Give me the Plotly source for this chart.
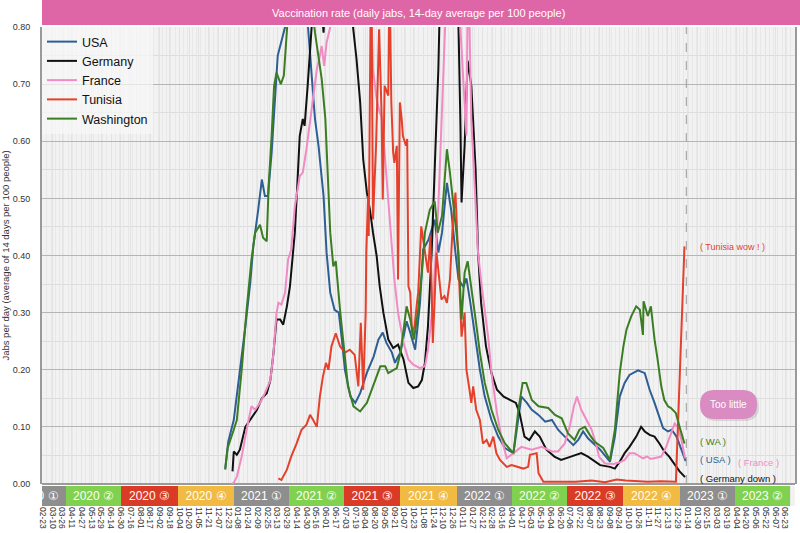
import plotly.graph_objects as go
import pandas as pd

# ---------------- data ----------------
usa_dates = ["2020-12-18","2020-12-23","2021-01-01","2021-01-09","2021-01-20","2021-01-28","2021-02-02","2021-02-10",
    "2021-02-16","2021-02-21","2021-02-26","2021-03-04","2021-03-10","2021-03-14","2021-03-21","2021-03-26","2021-04-03",
    "2021-04-12","2021-04-22","2021-05-03","2021-05-06","2021-05-14","2021-05-20","2021-05-24","2021-05-28","2021-06-02",
    "2021-06-08","2021-06-15","2021-06-22","2021-06-27","2021-07-02","2021-07-11","2021-07-19","2021-07-27","2021-08-07",
    "2021-08-18","2021-08-26","2021-09-02","2021-09-08","2021-09-17","2021-09-22","2021-09-26","2021-10-01","2021-10-06",
    "2021-10-11","2021-10-17","2021-10-25","2021-11-02","2021-11-07","2021-11-16","2021-11-26","2021-12-02","2021-12-08",
    "2021-12-16","2021-12-23","2021-12-30","2022-01-04","2022-01-12","2022-01-17","2022-01-23","2022-02-01","2022-02-08",
    "2022-02-16","2022-02-27","2022-03-10","2022-03-21","2022-04-04","2022-04-09","2022-04-17","2022-04-26","2022-05-04",
    "2022-05-15","2022-05-26","2022-06-06","2022-06-16","2022-06-27","2022-07-11","2022-07-19","2022-07-27","2022-08-04",
    "2022-08-15","2022-08-24","2022-09-09","2022-09-17","2022-09-25","2022-10-03","2022-10-11","2022-10-25","2022-11-05",
    "2022-11-13","2022-11-21","2022-11-29","2022-12-05","2022-12-13","2022-12-19","2022-12-27","2023-01-04","2023-01-11"]
usa_vals = [0.027,0.074,0.112,0.18,0.276,0.352,0.416,0.48,
    0.533,0.504,0.504,0.58,0.686,0.75,0.779,0.80,0.93,
    1.02,0.95,0.80,0.755,0.639,0.59,0.551,0.504,0.405,
    0.335,0.305,0.30,0.253,0.20,0.153,0.142,0.159,0.195,
    0.223,0.253,0.265,0.247,0.23,0.212,0.221,0.23,0.258,
    0.285,0.265,0.235,0.317,0.41,0.428,0.463,0.405,0.44,
    0.527,0.48,0.405,0.358,0.345,0.36,0.32,0.253,0.20,
    0.153,0.112,0.083,0.063,0.054,0.095,0.153,0.142,0.13,
    0.121,0.109,0.112,0.095,0.083,0.068,0.077,0.092,0.08,
    0.068,0.06,0.039,0.083,0.153,0.177,0.191,0.199,0.194,
    0.165,0.142,0.118,0.098,0.092,0.095,0.083,0.06,0.04]

germany_dates = ["2020-12-30","2021-01-01","2021-01-06","2021-01-11","2021-01-20","2021-01-28","2021-02-08","2021-02-16",
    "2021-02-24","2021-03-02","2021-03-07","2021-03-12","2021-03-18","2021-03-23","2021-03-29","2021-04-03","2021-04-08",
    "2021-04-11","2021-04-15","2021-04-19","2021-04-24","2021-04-27","2021-05-02","2021-05-06","2021-05-08","2021-05-18",
    "2021-05-28","2021-06-10","2021-06-25","2021-07-16","2021-07-21","2021-07-27","2021-08-01","2021-08-07","2021-08-12",
    "2021-08-17","2021-08-23","2021-08-28","2021-09-03","2021-09-11","2021-09-19","2021-09-27","2021-10-06","2021-10-14",
    "2021-10-22","2021-10-30","2021-11-05","2021-11-10","2021-11-15","2021-11-21","2021-11-26","2021-11-29","2021-12-02",
    "2021-12-04","2021-12-14","2021-12-24","2022-01-04","2022-01-07","2022-01-09","2022-01-14","2022-01-19","2022-01-25",
    "2022-02-01","2022-02-05","2022-02-10","2022-02-18","2022-02-27","2022-03-08","2022-03-19","2022-03-30","2022-04-08",
    "2022-04-14","2022-04-22","2022-04-30","2022-05-09","2022-05-17","2022-05-28","2022-06-10","2022-06-21","2022-07-07",
    "2022-07-24","2022-08-04","2022-08-15","2022-08-24","2022-09-09","2022-09-17","2022-09-25","2022-10-03","2022-10-11",
    "2022-10-22","2022-10-30","2022-11-05","2022-11-13","2022-11-21","2022-11-29","2022-12-07","2022-12-15","2022-12-23",
    "2023-01-01","2023-01-10"]
germany_vals = [0.022,0.057,0.051,0.06,0.10,0.112,0.13,0.15,
    0.159,0.182,0.229,0.288,0.288,0.279,0.311,0.346,0.405,
    0.44,0.522,0.609,0.639,0.627,0.697,0.755,0.80,0.95,
    0.79,1.05,1.0,0.80,0.744,0.668,0.568,0.51,0.48,
    0.44,0.399,0.346,0.30,0.253,0.238,0.244,0.218,0.177,
    0.168,0.171,0.182,0.212,0.276,0.405,0.533,0.639,0.726,
    0.80,1.3,1.0,0.80,0.639,0.493,0.592,0.741,0.697,
    0.551,0.405,0.317,0.241,0.194,0.165,0.153,0.147,0.142,
    0.124,0.083,0.077,0.092,0.083,0.06,0.048,0.042,0.048,
    0.054,0.048,0.039,0.033,0.03,0.027,0.039,0.054,0.065,
    0.083,0.10,0.092,0.086,0.083,0.071,0.057,0.048,0.036,
    0.022,0.012]

france_dates = ["2020-12-28","2021-01-01","2021-01-06","2021-01-14","2021-01-22","2021-01-30","2021-02-05","2021-02-13",
    "2021-02-21","2021-03-02","2021-03-07","2021-03-12","2021-03-15","2021-03-20","2021-03-26","2021-03-31","2021-04-05",
    "2021-04-11","2021-04-19","2021-04-24","2021-04-30","2021-05-06","2021-05-11","2021-05-17","2021-05-22","2021-05-25",
    "2021-05-29","2021-06-02","2021-06-08","2021-06-20","2021-07-05","2021-07-20","2021-08-05","2021-08-15","2021-08-17",
    "2021-08-23","2021-08-28","2021-08-31","2021-09-05","2021-09-10","2021-09-16","2021-09-21","2021-09-27","2021-10-06",
    "2021-10-14","2021-10-22","2021-11-02","2021-11-10","2021-11-15","2021-11-21","2021-11-26","2021-12-02","2021-12-07",
    "2021-12-13","2021-12-20","2021-12-30","2022-01-07","2022-01-13","2022-01-17","2022-01-19","2022-01-22","2022-01-25",
    "2022-02-01","2022-02-05","2022-02-11","2022-02-16","2022-02-22","2022-02-27","2022-03-08","2022-03-16","2022-03-24",
    "2022-04-04","2022-04-17","2022-05-04","2022-05-20","2022-06-06","2022-06-16","2022-06-27","2022-07-05","2022-07-12",
    "2022-07-17","2022-07-24","2022-08-02","2022-08-10","2022-08-17","2022-08-22","2022-09-01","2022-09-15","2022-09-25",
    "2022-10-03","2022-10-11","2022-10-19","2022-11-02","2022-11-09","2022-11-15","2022-11-24","2022-12-02","2022-12-10",
    "2022-12-18","2022-12-24","2022-12-29","2023-01-04","2023-01-10"]
france_vals = [0.0,0.002,0.013,0.048,0.095,0.136,0.13,0.142,
    0.159,0.182,0.229,0.299,0.317,0.314,0.335,0.393,0.41,
    0.486,0.539,0.545,0.586,0.633,0.674,0.726,0.75,0.767,
    0.732,0.773,0.80,0.95,0.90,1.15,0.95,0.80,0.726,
    0.674,0.65,0.644,0.58,0.51,0.434,0.358,0.30,0.247,
    0.218,0.209,0.203,0.206,0.235,0.294,0.37,0.486,0.627,
    0.80,1.0,0.95,0.80,0.70,0.61,0.85,0.80,0.639,
    0.492,0.405,0.346,0.305,0.253,0.194,0.124,0.077,0.045,
    0.054,0.065,0.06,0.065,0.057,0.057,0.071,0.10,0.136,
    0.153,0.13,0.112,0.095,0.071,0.048,0.036,0.035,0.038,
    0.042,0.054,0.054,0.045,0.048,0.044,0.046,0.048,0.065,
    0.089,0.106,0.10,0.077,0.045]

tunisia_dates = ["2021-03-15","2021-03-20","2021-03-29","2021-04-05","2021-04-14","2021-04-22","2021-04-30","2021-05-06",
    "2021-05-11","2021-05-17","2021-05-22","2021-05-27","2021-06-01","2021-06-05","2021-06-10","2021-06-17","2021-06-24",
    "2021-07-02","2021-07-10","2021-07-18","2021-07-24","2021-07-28","2021-08-01","2021-08-05","2021-08-06","2021-08-09",
    "2021-08-10","2021-08-14","2021-08-17","2021-08-22","2021-08-27","2021-08-31","2021-09-02","2021-09-05","2021-09-11",
    "2021-09-13","2021-09-16","2021-09-19","2021-09-21","2021-09-25","2021-09-27","2021-09-30","2021-10-03","2021-10-05",
    "2021-10-10","2021-10-12","2021-10-14","2021-10-17","2021-10-20","2021-10-24","2021-10-28","2021-10-30","2021-11-04",
    "2021-11-10","2021-11-15","2021-11-19","2021-11-23","2021-11-29","2021-12-04","2021-12-07","2021-12-12","2021-12-16",
    "2021-12-21","2021-12-26","2021-12-30","2022-01-03","2022-01-09","2022-01-14","2022-01-17","2022-01-22","2022-01-25",
    "2022-01-28","2022-02-02","2022-02-08","2022-02-13","2022-02-19","2022-02-24","2022-03-02","2022-03-07","2022-03-13",
    "2022-03-18","2022-03-24","2022-04-01","2022-04-12","2022-04-20","2022-04-28","2022-05-01","2022-05-12","2022-05-15",
    "2022-05-23","2022-07-15","2022-08-10","2022-09-01","2022-09-20","2022-10-05","2022-11-10","2022-12-01","2022-12-26",
    "2023-01-09"]
tunisia_vals = [0.01,0.007,0.025,0.048,0.071,0.095,0.104,0.121,
    0.112,0.10,0.153,0.188,0.212,0.20,0.241,0.264,0.241,
    0.23,0.235,0.226,0.171,0.282,0.165,0.30,0.405,0.504,
    0.434,0.95,0.463,0.592,0.796,0.65,0.498,0.697,0.68,
    0.90,0.668,0.58,0.562,0.592,0.358,0.668,0.639,0.609,
    0.592,0.604,0.346,0.335,0.264,0.276,0.317,0.335,0.451,
    0.405,0.37,0.434,0.247,0.405,0.346,0.323,0.329,0.317,
    0.358,0.463,0.51,0.405,0.258,0.30,0.20,0.165,0.142,
    0.171,0.13,0.112,0.071,0.077,0.065,0.083,0.054,0.042,
    0.036,0.03,0.033,0.03,0.027,0.03,0.051,0.054,0.019,
    0.004,0.004,0.006,0.003,0.008,0.006,0.004,0.005,0.004,
    0.416]

washington_dates = ["2020-12-18","2020-12-22","2021-01-01","2021-01-06","2021-01-14","2021-01-22","2021-01-30","2021-02-05",
    "2021-02-13","2021-02-18","2021-02-24","2021-02-27","2021-03-04","2021-03-08","2021-03-12","2021-03-19","2021-03-24",
    "2021-03-27","2021-03-30","2021-04-08","2021-04-18","2021-05-02","2021-05-14","2021-05-25","2021-05-31","2021-06-04",
    "2021-06-08","2021-06-13","2021-06-17","2021-06-24","2021-07-01","2021-07-07","2021-07-16","2021-07-27","2021-08-07",
    "2021-08-17","2021-08-29","2021-09-06","2021-09-11","2021-09-25","2021-10-01","2021-10-06","2021-10-11","2021-10-17",
    "2021-10-23","2021-10-30","2021-11-05","2021-11-10","2021-11-18","2021-11-26","2021-12-01","2021-12-08","2021-12-16",
    "2021-12-21","2021-12-26","2022-01-04","2022-01-09","2022-01-14","2022-01-19","2022-01-25","2022-02-01","2022-02-08",
    "2022-02-16","2022-02-27","2022-03-10","2022-03-21","2022-04-04","2022-04-12","2022-04-19","2022-04-25","2022-05-04",
    "2022-05-15","2022-05-31","2022-06-11","2022-06-22","2022-07-02","2022-07-13","2022-07-21","2022-07-30","2022-08-07",
    "2022-08-15","2022-08-29","2022-09-09","2022-09-17","2022-09-25","2022-10-01","2022-10-06","2022-10-14","2022-10-22",
    "2022-10-28","2022-11-02","2022-11-03","2022-11-10","2022-11-15","2022-11-21","2022-11-26","2022-12-02","2022-12-07",
    "2022-12-13","2022-12-18","2022-12-26","2023-01-01","2023-01-09"]
washington_vals = [0.025,0.063,0.095,0.112,0.20,0.305,0.393,0.44,
    0.454,0.431,0.425,0.52,0.61,0.697,0.72,0.70,0.715,
    0.767,0.80,0.95,1.0,0.90,0.79,0.709,0.639,0.551,
    0.44,0.381,0.39,0.305,0.23,0.171,0.136,0.127,0.142,
    0.171,0.206,0.206,0.194,0.203,0.23,0.27,0.311,0.288,
    0.253,0.305,0.37,0.44,0.48,0.495,0.44,0.469,0.586,
    0.545,0.498,0.405,0.288,0.37,0.39,0.346,0.288,0.23,
    0.177,0.13,0.095,0.071,0.054,0.13,0.177,0.177,0.147,
    0.136,0.133,0.121,0.115,0.089,0.077,0.095,0.10,0.086,
    0.074,0.063,0.042,0.095,0.194,0.241,0.27,0.294,0.311,
    0.305,0.261,0.32,0.294,0.311,0.253,0.218,0.171,0.147,
    0.136,0.133,0.124,0.10,0.071]

# quarter band
quarter_starts = ["2020-01-01","2020-04-01","2020-07-01","2020-10-01","2021-01-01","2021-04-01","2021-07-01",
    "2021-10-01","2022-01-01","2022-04-01","2022-07-01","2022-10-01","2023-01-01","2023-04-01"]
quarter_ends = ["2020-04-01","2020-07-01","2020-10-01","2021-01-01","2021-04-01","2021-07-01","2021-10-01",
    "2022-01-01","2022-04-01","2022-07-01","2022-10-01","2023-01-01","2023-04-01","2023-07-01"]
quarter_labels = ["2020 ①","2020 ②","2020 ③","2020 ④","2021 ①","2021 ②","2021 ③","2021 ④",
    "2022 ①","2022 ②","2022 ③","2022 ④","2023 ①","2023 ②"]
quarter_numbers = [1,2,3,4,1,2,3,4,1,2,3,4,1,2]

today = "2023-01-12"

# ---------------- styling ----------------
FONT = "Liberation Sans, Arial, Helvetica, sans-serif"
C_USA = "#2d5e94"
C_GER = "#111111"
C_FRA = "#f28ac4"
C_TUN = "#e5402b"
C_WA = "#3b7d22"
Q_COLORS = {1: "#8e8e8e", 2: "#7fd14f", 3: "#d93b27", 4: "#f1ba42"}

fig = go.Figure()

series = [("USA", usa_dates, usa_vals, C_USA),
          ("Germany", germany_dates, germany_vals, C_GER),
          ("France", france_dates, france_vals, C_FRA),
          ("Tunisia", tunisia_dates, tunisia_vals, C_TUN),
          ("Washington", washington_dates, washington_vals, C_WA)]
for name, xs, ys, col in series:
    fig.add_trace(go.Scatter(x=xs, y=ys, mode="lines", name=name,
                             line=dict(color=col, width=2), xaxis="x", yaxis="y"))

qs = pd.to_datetime(quarter_starts)
qe = pd.to_datetime(quarter_ends)
durations = [(e - s).total_seconds() * 1000 for s, e in zip(qs, qe)]
fig.add_trace(go.Bar(orientation="h", y=[0] * len(quarter_starts), base=quarter_starts, x=durations,
                     width=1, text=quarter_labels, textposition="inside", insidetextanchor="middle",
                     constraintext="none", textfont=dict(color="white", size=12, family=FONT),
                     marker=dict(color=[Q_COLORS[q] for q in quarter_numbers], line=dict(width=0)),
                     xaxis="x", yaxis="y2", showlegend=False, hoverinfo="skip"))

H_PLOT = 479.0
W_PLOT = 753.0
main_bottom = 22 / H_PLOT

def px_x(px):
    return (px - 42) / W_PLOT

def px_y(py):
    return (506 - py) / H_PLOT

shapes = []
# title bar
shapes.append(dict(type="rect", xref="paper", yref="paper", x0=0, x1=px_x(800), y0=px_y(25), y1=px_y(0),
                   fillcolor="#df66a6", line=dict(width=0), layer="above"))
# today line
shapes.append(dict(type="line", xref="x", yref="paper", x0=today, x1=today, y0=main_bottom, y1=1,
                   line=dict(color="#9a9a9a", width=1, dash="dash"), layer="above"))

# "Too little" pill
def pill(x0p, x1p, y0p, y1p):
    x0, x1, y0, y1 = px_x(x0p), px_x(x1p), px_y(y1p), px_y(y0p)
    r = (y1p - y0p) / 2.0
    rx = r / W_PLOT
    ym = (y0 + y1) / 2
    return (f"M {x0+rx},{y0} L {x1-rx},{y0} Q {x1},{y0} {x1},{ym} Q {x1},{y1} {x1-rx},{y1} "
            f"L {x0+rx},{y1} Q {x0},{y1} {x0},{ym} Q {x0},{y0} {x0+rx},{y0} Z")

shapes.append(dict(type="path", xref="paper", yref="paper", path=pill(702, 759, 392, 421),
                   fillcolor="rgba(120,120,120,0.22)", line=dict(width=0), layer="above"))
shapes.append(dict(type="path", xref="paper", yref="paper", path=pill(700, 757, 390, 419),
                   fillcolor="#d98bc2", line=dict(width=0), layer="above"))

def label(text, px, py, color, size=9.5, xanchor="left"):
    return dict(text=text, x=px_x(px), y=px_y(py), xanchor=xanchor, yanchor="middle",
                xref="paper", yref="paper", showarrow=False,
                font=dict(color=color, size=size, family=FONT))

annotations = [
    label("Vaccination rate (daily jabs, 14-day average per 100 people)", 418.5, 13, "white", 11, "center"),
    label("( Tunisia wow ! )", 698, 247, C_TUN, 9),
    label("Too little", 728.5, 404, "white", 10, "center"),
    label("( WA )", 698, 441, C_WA),
    label("( USA )", 698, 459, C_USA),
    label("( France )", 736, 462, C_FRA),
    label("( Germany down )", 698, 478, "#111111"),
]

DAY = 86400000
fig.update_layout(
    width=800, height=533,
    margin=dict(l=42, r=5, t=27, b=27, autoexpand=False),
    paper_bgcolor="white", plot_bgcolor="#f2f2f2",
    font=dict(family=FONT, color="#333"),
    showlegend=True,
    legend=dict(x=0.0, y=1.0, xanchor="left", yanchor="top", bgcolor="rgba(248,248,248,0.7)",
                font=dict(size=12.5, color="#111", family=FONT), borderwidth=0, tracegroupgap=0),
    xaxis=dict(type="date", range=["2020-02-22", "2023-07-09"], anchor="y2",
               tickmode="linear", tick0="2020-02-23", dtick=16 * DAY, tickformat="%m-%d",
               tickangle=90, tickfont=dict(size=8.5, color="#333"), ticks="",
               showgrid=True, gridcolor="#e3e3e3", gridwidth=1,
               minor=dict(dtick=7 * DAY, tick0="2020-02-23", showgrid=True, gridcolor="#e8e8e8"),
               showline=False, zeroline=False, automargin=False, fixedrange=True),
    yaxis=dict(domain=[main_bottom, 1], range=[0, 0.8], anchor="x", dtick=0.1, tickformat=".2f",
               tickfont=dict(size=9, color="#333"), ticks="", ticklabelstandoff=8,
               gridcolor="#b5b5b5", gridwidth=1,
               minor=dict(dtick=0.05, showgrid=True, gridcolor="#dddddd"),
               showline=True, linecolor="#9a9a9a", linewidth=2, mirror=True,
               zeroline=True, zerolinecolor="#9a9a9a", zerolinewidth=2,
               title=dict(text="Jabs per day (average of 14 days per 100 people)",
                          font=dict(size=9.5, color="#333"), standoff=4),
               automargin=False),
    yaxis2=dict(domain=[0, 20 / H_PLOT], range=[-0.5, 0.5], anchor="x", visible=False,
                showgrid=False, zeroline=False, fixedrange=True),
    shapes=shapes, annotations=annotations,
    bargap=0,
)

fig.write_html("out.html", config={"displayModeBar": False},
               post_script="document.body.style.margin='0px';")
